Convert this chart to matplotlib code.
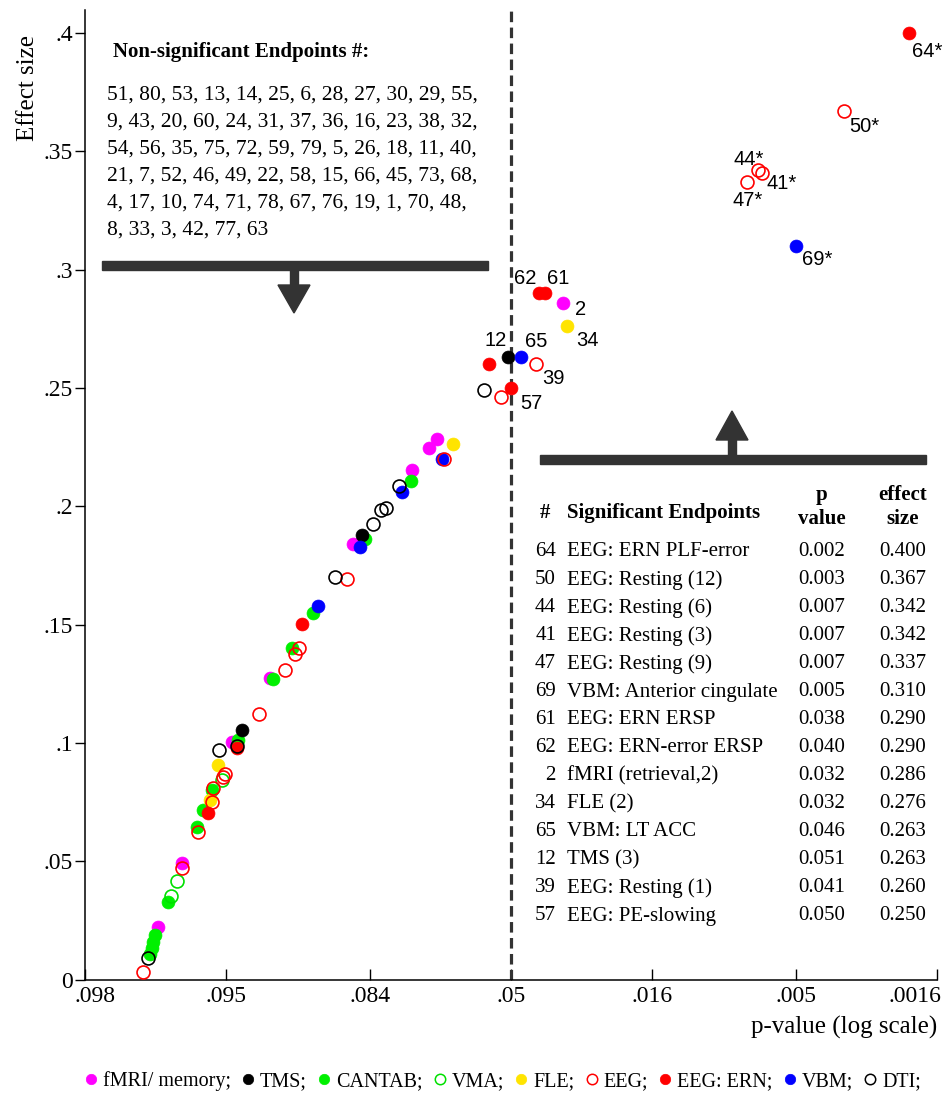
import numpy as np
import matplotlib
matplotlib.use("Agg")
import matplotlib.pyplot as plt
from matplotlib.lines import Line2D
from matplotlib.patches import Rectangle, Polygon
from matplotlib.transforms import ScaledTranslation

plt.rcParams['font.family'] = ['Liberation Serif', 'DejaVu Serif']

# ---------------- data (p-value, effect size) ----------------
fmri_p = [0.09712, 0.09650, 0.09475, 0.09287, 0.08606, 0.07754, 0.07422, 0.07251, 0.0329]
fmri_es = [0.0224, 0.0494, 0.1005, 0.1275, 0.1841, 0.2154, 0.2247, 0.2285, 0.286]

tms_p = [0.09431, 0.08500, 0.051]
tms_es = [0.1056, 0.1879, 0.263]

cantab_p = [0.09730, 0.09725, 0.09723, 0.09719, 0.09687, 0.09605, 0.09585, 0.09554,
            0.09449, 0.09269, 0.09148, 0.08990, 0.08463, 0.07772]
cantab_es = [0.0106, 0.0135, 0.0160, 0.0186, 0.0329, 0.0646, 0.0718, 0.0802,
             0.1014, 0.1271, 0.1402, 0.1550, 0.1862, 0.2107]

vma_p = [0.09680, 0.09664, 0.09516]
vma_es = [0.0351, 0.0418, 0.0845]

fle_p = [0.09561, 0.09532, 0.06872, 0.0318]
fle_es = [0.0760, 0.0908, 0.2264, 0.276]

eeg_p = [0.09744, 0.09650, 0.09601, 0.09554, 0.09550, 0.09512, 0.09504, 0.09347,
         0.09195, 0.09128, 0.09099, 0.08672, 0.07092, 0.05390, 0.041, 0.0034,
         0.0068, 0.0066, 0.0074]
eeg_es = [0.0030, 0.0473, 0.0625, 0.0752, 0.0811, 0.0857, 0.0870, 0.1123,
          0.1309, 0.1377, 0.1402, 0.1693, 0.2200, 0.2462, 0.260, 0.367,
          0.342, 0.341, 0.337]

ern_p = [0.09568, 0.09454, 0.09076, 0.05817, 0.050, 0.040, 0.038, 0.002]
ern_es = [0.0705, 0.0980, 0.1503, 0.2601, 0.250, 0.290, 0.290, 0.400]

vbm_p = [0.08949, 0.08524, 0.07928, 0.07139, 0.046, 0.005]
vbm_es = [0.1579, 0.1829, 0.2061, 0.2200, 0.263, 0.310]

dti_p = [0.09734, 0.09528, 0.09454, 0.08794, 0.08361, 0.08251, 0.08180, 0.07978, 0.05982]
dti_es = [0.0089, 0.0971, 0.0988, 0.1702, 0.1926, 0.1985, 0.1993, 0.2086, 0.2492]

# labelled significant points
lab_text = ["64*", "50*", "44*", "41*", "47*", "69*", "61", "62", "2", "34", "65", "12", "39", "57"]
lab_p = [0.002, 0.0034, 0.0068, 0.0066, 0.0074, 0.005, 0.038, 0.040, 0.0329, 0.0318, 0.046, 0.051, 0.041, 0.050]
lab_es = [0.400, 0.367, 0.342, 0.341, 0.337, 0.310, 0.290, 0.290, 0.286, 0.276, 0.263, 0.263, 0.260, 0.250]

xtick_vals = [0.0984, 0.095, 0.084, 0.05, 0.016, 0.005, 0.0016]
xtick_labels = [".098", ".095", ".084", ".05", ".016", ".005", ".0016"]
ytick_vals = [0, 0.05, 0.1, 0.15, 0.2, 0.25, 0.3, 0.35, 0.4]
ytick_labels = ["0", ".05", ".1", ".15", ".2", ".25", ".3", ".35", ".4"]

nonsig_ids = [51, 80, 53, 13, 14, 25, 6, 28, 27, 30, 29, 55,
              9, 43, 20, 60, 24, 31, 37, 36, 16, 23, 38, 32,
              54, 56, 35, 75, 72, 59, 79, 5, 26, 18, 11, 40,
              21, 7, 52, 46, 49, 22, 58, 15, 66, 45, 73, 68,
              4, 17, 10, 74, 71, 78, 67, 76, 19, 1, 70, 48,
              8, 33, 3, 42, 77, 63]

sig_ids = ["64", "50", "44", "41", "47", "69", "61", "62", "2", "34", "65", "12", "39", "57"]
sig_names = ["EEG: ERN PLF-error", "EEG: Resting (12)", "EEG: Resting (6)", "EEG: Resting (3)",
             "EEG: Resting (9)", "VBM: Anterior cingulate", "EEG: ERN ERSP", "EEG: ERN-error ERSP",
             "fMRI (retrieval,2)", "FLE (2)", "VBM: LT ACC", "TMS (3)", "EEG: Resting (1)",
             "EEG: PE-slowing"]
sig_pvals = ["0.002", "0.003", "0.007", "0.007", "0.007", "0.005", "0.038", "0.040",
             "0.032", "0.032", "0.046", "0.051", "0.041", "0.050"]
sig_effects = ["0.400", "0.367", "0.342", "0.342", "0.337", "0.310", "0.290", "0.290",
               "0.286", "0.276", "0.263", "0.263", "0.260", "0.250"]

# ---------------- scale: log p mirrored about .05 ----------------
C = 2 * np.log10(20.0)


def fwd(p):
    p = np.asarray(p, dtype=float)
    a = -np.log10(np.clip(p, 1e-12, None))
    b = C + np.log10(np.clip(0.1 - p, 1e-12, None))
    return np.where(p <= 0.05, a, b)


def inv(u):
    u = np.asarray(u, dtype=float)
    return np.where(u >= C / 2, 10.0 ** (-u), 0.1 - 10.0 ** (u - C))


W, H = 943, 1094
fig = plt.figure(figsize=(W / 100, H / 100), dpi=100)
AX_L, AX_R, AX_T, AX_B = 85, 937, 10, 979.5
ax = fig.add_axes([AX_L / W, 1 - AX_B / H, (AX_R - AX_L) / W, (AX_B - AX_T) / H])
ax.set_xscale('function', functions=(fwd, inv))

MS = 9.3
groups = [
    (fmri_p, fmri_es, '#FF00FF', True),
    (cantab_p, cantab_es, '#00F000', True),
    (vma_p, vma_es, '#00E000', False),
    (fle_p, fle_es, '#FFE400', True),
    (tms_p, tms_es, 'black', True),
    (vbm_p, vbm_es, '#0000FF', True),
    (ern_p, ern_es, '#FF0000', True),
    (eeg_p, eeg_es, '#FF0000', False),
    (dti_p, dti_es, 'black', False),
]
for px, py, col, filled in groups:
    if filled:
        ax.plot(px, py, 'o', ms=MS, mfc=col, mec=col, mew=0.5, ls='none', zorder=3)
    else:
        ax.plot(px, py, 'o', ms=MS, mfc='none', mec=col, mew=1.2, ls='none', zorder=4)

# significance line
ax.axvline(0.05, color='#333333', lw=2.3, ls=(0, (3.3, 1.7)), zorder=2)

# point labels (offsets in points)
offsets = {"64*": (13, -13), "50*": (14.5, -11), "44*": (-6.5, 7.5), "41*": (14.5, -7.5),
           "47*": (0, -13), "69*": (15, -9.5), "61": (9.5, 10.5), "62": (-9.5, 10.5),
           "2": (12.5, -4.5), "34": (14.5, -10), "65": (11, 11.5), "12": (-9, 12),
           "39": (13, -10), "57": (14.5, -11)}
for t, px, py in zip(lab_text, lab_p, lab_es):
    ax.annotate(t, (px, py), xytext=offsets[t], textcoords='offset points',
                ha='center', va='center', fontsize=14.5, family=['Liberation Sans', 'DejaVu Sans'],
                zorder=5)

# data-space limits given in increasing order; the decreasing scale puts .098 on the left
ax.set_xlim(xtick_vals[-1], xtick_vals[0])
ax.set_ylim(0, (AX_B - AX_T) / 2366.0)
ax.set_xticks(xtick_vals)
ax.set_xticklabels(xtick_labels)
ax.set_yticks(ytick_vals)
ax.set_yticklabels(ytick_labels)
ax.minorticks_off()
ax.tick_params(axis='x', direction='in', length=8, width=1, pad=5, labelsize=17)
ax.tick_params(axis='y', direction='out', length=7, width=1, pad=1.5, labelsize=17)
for s in ['top', 'right']:
    ax.spines[s].set_visible(False)
for s in ['left', 'bottom']:
    ax.spines[s].set_linewidth(1.1)
# nudge first / last x tick labels so they stay clear of the corners
fig.canvas.draw()
for lbl in ax.get_xticklabels():
    if lbl.get_text() == ".098":
        lbl.set_transform(lbl.get_transform() + ScaledTranslation(0.10, 0, fig.dpi_scale_trans))
    elif lbl.get_text() == ".0016":
        lbl.set_horizontalalignment('right')
        lbl.set_transform(lbl.get_transform() + ScaledTranslation(0.04, 0, fig.dpi_scale_trans))

ax.set_ylabel("Effect size", fontsize=18, va='center')
ax.yaxis.set_label_coords((28 - AX_L) / (AX_R - AX_L), (AX_B - 88) / (AX_B - AX_T))
ax.set_xlabel("p-value (log scale)", fontsize=18, ha='right', va='center')
ax.xaxis.set_label_coords(1.0, (AX_B - 1027) / (AX_B - AX_T))


def axp(x, y):
    return ((x - AX_L) / (AX_R - AX_L), (AX_B - y) / (AX_B - AX_T))


ARC = '#333333'
# top arrow (down)
x0, y0 = axp(102, 270)
x1, y1 = axp(488, 261)
ax.add_patch(Rectangle((x0, y0), x1 - x0, y1 - y0, transform=ax.transAxes, color=ARC,
                       clip_on=False, zorder=1))
sx0, sy0 = axp(290, 286)
sx1, sy1 = axp(298, 269)
ax.add_patch(Rectangle((sx0, sy0), sx1 - sx0, sy1 - sy0, transform=ax.transAxes, color=ARC,
                       clip_on=False, zorder=1))
ax.add_patch(Polygon([axp(278, 285), axp(310, 285), axp(294, 313)], closed=True,
                     transform=ax.transAxes, color=ARC, clip_on=False, zorder=1))
# bottom arrow (up)
x0, y0 = axp(540, 464)
x1, y1 = axp(926, 455)
ax.add_patch(Rectangle((x0, y0), x1 - x0, y1 - y0, transform=ax.transAxes, color=ARC,
                       clip_on=False, zorder=1))
sx0, sy0 = axp(728, 456)
sx1, sy1 = axp(736, 439)
ax.add_patch(Rectangle((sx0, sy0), sx1 - sx0, sy1 - sy0, transform=ax.transAxes, color=ARC,
                       clip_on=False, zorder=1))
ax.add_patch(Polygon([axp(716, 440), axp(748, 440), axp(732, 411)], closed=True,
                     transform=ax.transAxes, color=ARC, clip_on=False, zorder=1))


def ftext(x, y, s, **kw):
    fig.text(x / W, 1 - y / H, s, **kw)


# non-significant list
ftext(113, 52, "Non-significant Endpoints #:", fontsize=15, fontweight='bold', va='center')
row_counts = [12, 12, 12, 12, 12, 6]
k = 0
for i, n in enumerate(row_counts):
    items = nonsig_ids[k:k + n]
    k += n
    s = ", ".join(str(v) for v in items)
    if k < len(nonsig_ids):
        s += ","
    ftext(107, 95 + 27 * i, s, fontsize=15.5, va='center')

# significant table
ftext(545, 513, "#", fontsize=15, fontweight='bold', va='center', ha='center')
ftext(567, 513, "Significant Endpoints", fontsize=15, fontweight='bold', va='center')
ftext(822, 495, "p", fontsize=15, fontweight='bold', va='center', ha='center')
ftext(822, 519, "value", fontsize=15, fontweight='bold', va='center', ha='center')
ftext(903, 495, "effect", fontsize=15, fontweight='bold', va='center', ha='center')
ftext(903, 519, "size", fontsize=15, fontweight='bold', va='center', ha='center')
for i, (a, b, c, d) in enumerate(zip(sig_ids, sig_names, sig_pvals, sig_effects)):
    y = 552 + 28 * i
    ftext(556, y, a, fontsize=15, va='center', ha='right')
    ftext(567, y, b, fontsize=15, va='center', ha='left')
    ftext(822, y, c, fontsize=15, va='center', ha='center')
    ftext(903, y, d, fontsize=15, va='center', ha='center')

# legend
leg_items = [("fMRI/ memory;", '#FF00FF', True), ("TMS;", 'black', True),
             ("CANTAB;", '#00F000', True), ("VMA;", '#00E000', False),
             ("FLE;", '#FFE400', True), ("EEG;", '#FF0000', False),
             ("EEG: ERN;", '#FF0000', True), ("VBM;", '#0000FF', True),
             ("DTI;", 'black', False)]
handles = []
for name, col, filled in leg_items:
    handles.append(Line2D([], [], marker='o', ls='none', ms=7.5,
                          mfc=col if filled else 'none', mec=col, mew=1.1 if not filled else 0.5,
                          label=name))
fig.legend(handles=handles, loc='center', bbox_to_anchor=(503 / W, 1 - 1081 / H), ncol=9,
           frameon=False, fontsize=14.5, handlelength=0.6, handletextpad=0.3,
           columnspacing=0.55, borderpad=0, borderaxespad=0)

fig.savefig("out.png", dpi=100)
